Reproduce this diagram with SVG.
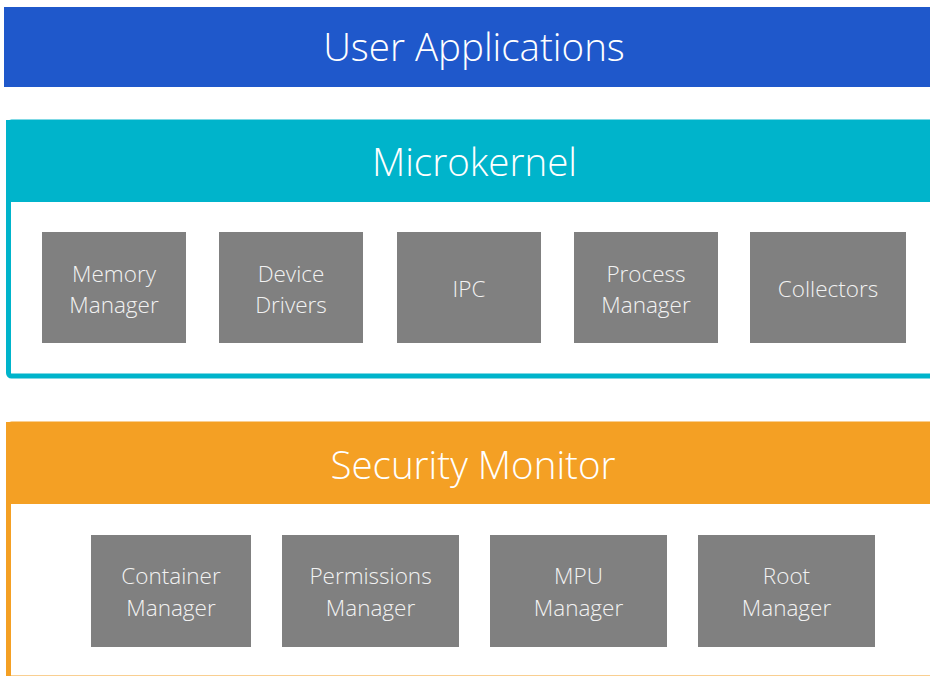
<svg xmlns="http://www.w3.org/2000/svg" width="930" height="676" viewBox="0 0 930 676">
<style>
.title{font-family:"Open Sans","Liberation Sans",sans-serif;font-weight:300;font-size:38.5px;fill:#ffffff;text-anchor:middle}
.box{fill:#808080}
.lbl{font-family:"Open Sans","Liberation Sans",sans-serif;font-weight:300;font-size:22.5px;fill:#f2f2f2;text-anchor:middle}
</style>
<rect width="930" height="676" fill="#ffffff"/>
<g id="user-applications">
<rect x="4" y="7" width="926" height="80" fill="#1f58cb"/>
<text class="title" x="474" y="61">User Applications</text>
</g>
<g id="microkernel">
<rect x="8.5" y="122" width="925" height="254" rx="3" fill="#ffffff" stroke="#00b4cb" stroke-width="5"/>
<rect x="6" y="120" width="924" height="82" fill="#00b4cb"/>
<text class="title" x="474.5" y="176">Microkernel</text>
</g>
<g id="memory-manager"><rect class="box" x="42" y="232" width="144" height="111"/><text class="lbl" x="114" y="282">Memory</text><text class="lbl" x="114" y="313">Manager</text></g>
<g id="device-drivers"><rect class="box" x="219" y="232" width="144" height="111"/><text class="lbl" x="291" y="282">Device</text><text class="lbl" x="291" y="313">Drivers</text></g>
<g id="ipc"><rect class="box" x="397" y="232" width="144" height="111"/><text class="lbl" x="469" y="297">IPC</text></g>
<g id="process-manager"><rect class="box" x="574" y="232" width="144" height="111"/><text class="lbl" x="646" y="282">Process</text><text class="lbl" x="646" y="313">Manager</text></g>
<g id="collectors"><rect class="box" x="750" y="232" width="156" height="111"/><text class="lbl" x="828" y="297">Collectors</text></g>
<g id="security-monitor">
<rect x="8.5" y="424" width="925" height="254" rx="3" fill="#ffffff" stroke="#f4a024" stroke-width="5"/>
<rect x="6" y="422" width="924" height="82" fill="#f4a024"/>
<text class="title" x="473" y="479">Security Monitor</text>
</g>
<g id="container-manager"><rect class="box" x="91" y="535" width="160" height="112"/><text class="lbl" x="171" y="584">Container</text><text class="lbl" x="171" y="616">Manager</text></g>
<g id="permissions-manager"><rect class="box" x="282" y="535" width="177" height="112"/><text class="lbl" x="370.5" y="584">Permissions</text><text class="lbl" x="370.5" y="616">Manager</text></g>
<g id="mpu-manager"><rect class="box" x="490" y="535" width="177" height="112"/><text class="lbl" x="578.5" y="584">MPU</text><text class="lbl" x="578.5" y="616">Manager</text></g>
<g id="root-manager"><rect class="box" x="698" y="535" width="177" height="112"/><text class="lbl" x="786.5" y="584">Root</text><text class="lbl" x="786.5" y="616">Manager</text></g>
<g id="connectors"/>
</svg>
